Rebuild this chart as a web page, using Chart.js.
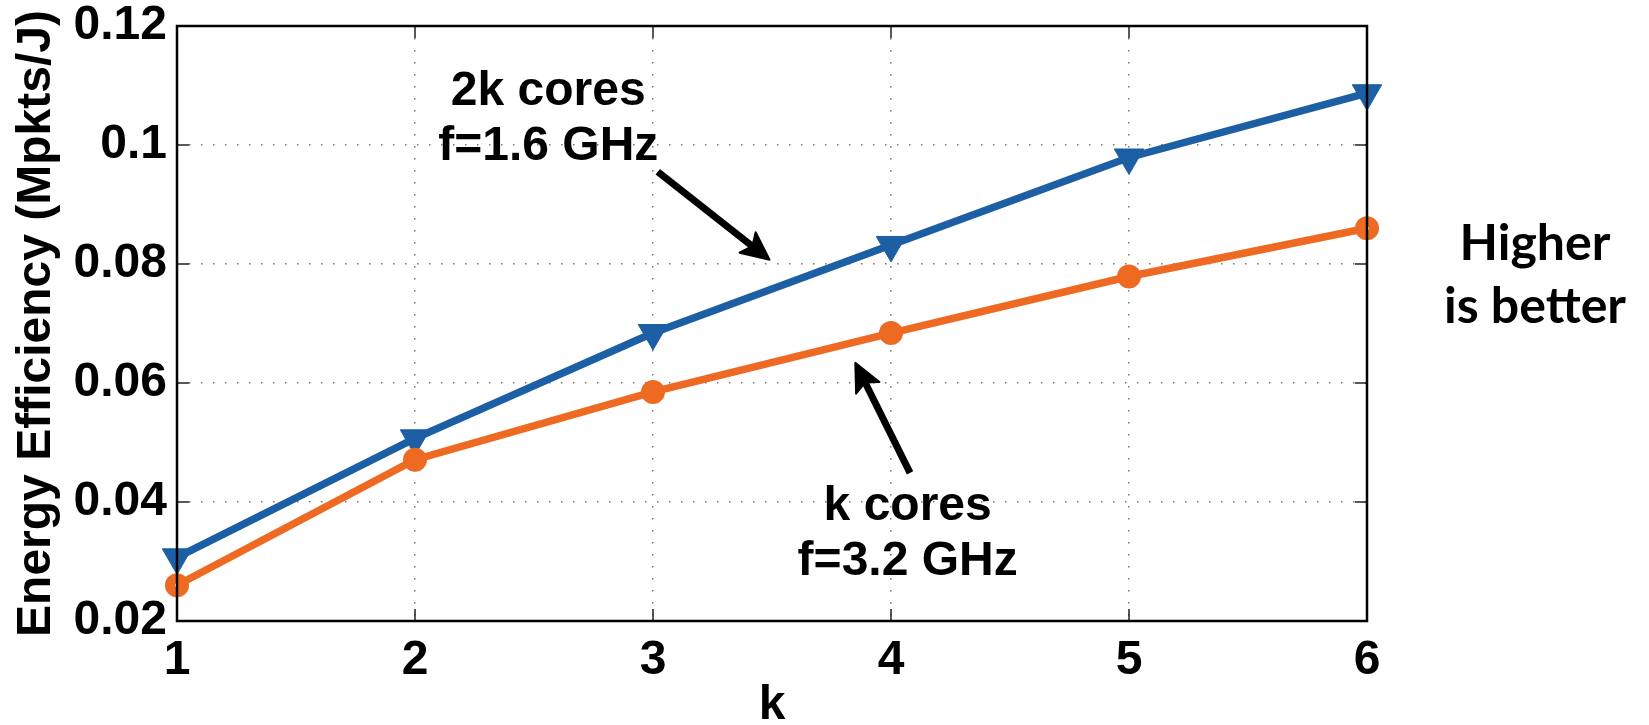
<!DOCTYPE html>
<html>
<head>
<meta charset="utf-8">
<script src="https://cdn.jsdelivr.net/npm/chart.js@4.4.0/dist/chart.umd.min.js"></script>
<style>
  html, body { margin: 0; padding: 0; background: #fff; }
  #wrap { width: 1649px; height: 725px; }
</style>
</head>
<body>
<div id="wrap"><canvas id="grafico"></canvas></div>
<script>
// valores de k e eficiência energética (Mpkts/J)
const valoresK = [1, 2, 3, 4, 5, 6];
const eficiencia2k = [0.0307, 0.0507, 0.0684, 0.0832, 0.0979, 0.1087];  // 2k cores, f=1.6 GHz
const eficienciaK = [0.0260, 0.0471, 0.0585, 0.0684, 0.0779, 0.0860];   // k cores, f=3.2 GHz
const ticksX = [1, 2, 3, 4, 5, 6];
const ticksY = [0.02, 0.04, 0.06, 0.08, 0.1, 0.12];

const fonteEixo = 'Liberation Sans';

// notas e setas (em unidades dos eixos)
const notas = [
    { linhas: ['2k cores', 'f=1.6 GHz'], x: 2.56, y: 0.1067 },
    { linhas: ['k cores', 'f=3.2 GHz'], x: 4.07, y: 0.0370 }
];
const setas = [
    { de: [3.02, 0.0955], para: [3.49, 0.0807] },
    { de: [4.08, 0.0449], para: [3.85, 0.0634] }
];

function desenharSeta(ctx, x1, y1, x2, y2) {
    const ang = Math.atan2(y2 - y1, x2 - x1);
    const comp = 28, larg = 13;
    const bx = x2 - comp * Math.cos(ang);
    const by = y2 - comp * Math.sin(ang);
    ctx.strokeStyle = '#000';
    ctx.fillStyle = '#000';
    ctx.lineWidth = 7;
    ctx.beginPath();
    ctx.moveTo(x1, y1);
    ctx.lineTo(bx + 6 * Math.cos(ang), by + 6 * Math.sin(ang));
    ctx.stroke();
    ctx.lineJoin = 'round';
    ctx.lineWidth = 2;
    ctx.beginPath();
    ctx.moveTo(x2, y2);
    ctx.lineTo(bx + larg * Math.sin(ang), by - larg * Math.cos(ang));
    ctx.lineTo(bx + 6 * Math.cos(ang), by + 6 * Math.sin(ang));
    ctx.lineTo(bx - larg * Math.sin(ang), by + larg * Math.cos(ang));
    ctx.closePath();
    ctx.fill();
    ctx.stroke();
}

// moldura, marcas internas dos ticks e anotações
const moldura = {
    id: 'moldura',
    afterDatasetsDraw(chart) {
        const { ctx, chartArea: a, scales: { x, y } } = chart;
        ctx.save();
        ctx.strokeStyle = '#222';
        ctx.lineWidth = 1.5;
        ctx.beginPath();
        ticksY.forEach(v => {
            const py = y.getPixelForValue(v);
            ctx.moveTo(a.left, py); ctx.lineTo(a.left + 12, py);
            ctx.moveTo(a.right, py); ctx.lineTo(a.right - 12, py);
        });
        ticksX.forEach(v => {
            const px = x.getPixelForValue(v);
            ctx.moveTo(px, a.bottom); ctx.lineTo(px, a.bottom - 12);
            ctx.moveTo(px, a.top); ctx.lineTo(px, a.top + 12);
        });
        ctx.stroke();
        ctx.strokeStyle = '#000';
        ctx.lineWidth = 2.5;
        ctx.strokeRect(a.left, a.top, a.right - a.left, a.bottom - a.top);
        ctx.restore();
    },
    afterDraw(chart) {
        const { ctx, chartArea: a, scales: { x, y } } = chart;
        ctx.save();
        ctx.fillStyle = '#000';
        ctx.textAlign = 'center';
        ctx.textBaseline = 'alphabetic';
        ctx.font = 'bold 48px "' + fonteEixo + '"';
        notas.forEach(n => {
            n.linhas.forEach((t, i) => {
                ctx.fillText(t, x.getPixelForValue(n.x), y.getPixelForValue(n.y) + i * 55);
            });
        });
        setas.forEach(s => {
            desenharSeta(ctx,
                x.getPixelForValue(s.de[0]), y.getPixelForValue(s.de[1]),
                x.getPixelForValue(s.para[0]), y.getPixelForValue(s.para[1]));
        });
        ctx.font = 'bold 50px Lato';
        ctx.fillText('Higher', a.right + 168, y.getPixelForValue(0.0807));
        ctx.fillText('is better', a.right + 168, y.getPixelForValue(0.0807) + 63);
        ctx.restore();
    }
};

document.addEventListener('DOMContentLoaded', function () {
    const ctx = document.getElementById('grafico').getContext('2d');
    new Chart(ctx, {
        type: 'line',
        data: {
            datasets: [{
                label: '2k cores, f=1.6 GHz',
                data: valoresK.map((k, i) => ({ x: k, y: eficiencia2k[i] })),
                borderColor: '#1c5fa4',
                backgroundColor: '#1c5fa4',
                borderWidth: 7.5,
                pointStyle: 'triangle',
                rotation: 180,
                pointRadius: 17,
                pointBorderWidth: 1,
                pointBackgroundColor: '#1c5fa4',
                tension: 0,
                clip: false,
                order: 2
            }, {
                label: 'k cores, f=3.2 GHz',
                data: valoresK.map((k, i) => ({ x: k, y: eficienciaK[i] })),
                borderColor: '#ee6a23',
                backgroundColor: '#ee6a23',
                borderWidth: 7.5,
                pointStyle: 'circle',
                pointRadius: 7,
                pointBorderWidth: 10,
                pointBackgroundColor: 'rgba(0,0,0,0)',
                tension: 0,
                clip: false,
                order: 1
            }]
        },
        options: {
            responsive: true,
            maintainAspectRatio: false,
            animation: false,
            events: [],
            layout: { padding: { left: 0, top: 26, right: 282, bottom: 0 } },
            plugins: { legend: { display: false }, tooltip: { enabled: false } },
            scales: {
                x: {
                    type: 'linear',
                    min: 1,
                    max: 6,
                    afterBuildTicks: s => { s.ticks = ticksX.map(v => ({ value: v })); },
                    afterFit: s => { s.height = 104; },
                    ticks: {
                        color: '#000',
                        padding: 2,
                        font: { family: fonteEixo, size: 48, weight: 'bold', lineHeight: 1 },
                        callback: v => String(v)
                    },
                    grid: { color: '#777', lineWidth: 1.5, drawTicks: true, tickLength: 14, tickColor: 'rgba(0,0,0,0)' },
                    border: { display: false, dash: [1.5, 10.5] },
                    title: {
                        display: true,
                        text: 'k',
                        color: '#000',
                        padding: 0,
                        font: { family: fonteEixo, size: 48, weight: 'bold', lineHeight: 0.8 }
                    }
                },
                y: {
                    min: 0.02,
                    max: 0.12,
                    afterBuildTicks: s => { s.ticks = ticksY.map(v => ({ value: v })); },
                    afterFit: s => { s.width = 177; },
                    ticks: {
                        color: '#000',
                        padding: 2,
                        font: { family: fonteEixo, size: 48, weight: 'bold', lineHeight: 1 },
                        callback: v => String(Number(v.toFixed(2)))
                    },
                    grid: { color: '#777', lineWidth: 1.5, drawTicks: true, tickLength: 8, tickColor: 'rgba(0,0,0,0)' },
                    border: { display: false, dash: [1.5, 10.5] },
                    title: {
                        display: true,
                        text: 'Energy Efficiency (Mpkts/J)',
                        color: '#000',
                        padding: { top: 8, bottom: 0 },
                        font: { family: fonteEixo, size: 48, weight: 'bold', lineHeight: 1.2 }
                    }
                }
            }
        },
        plugins: [moldura]
    });
});
</script>
</body>
</html>
